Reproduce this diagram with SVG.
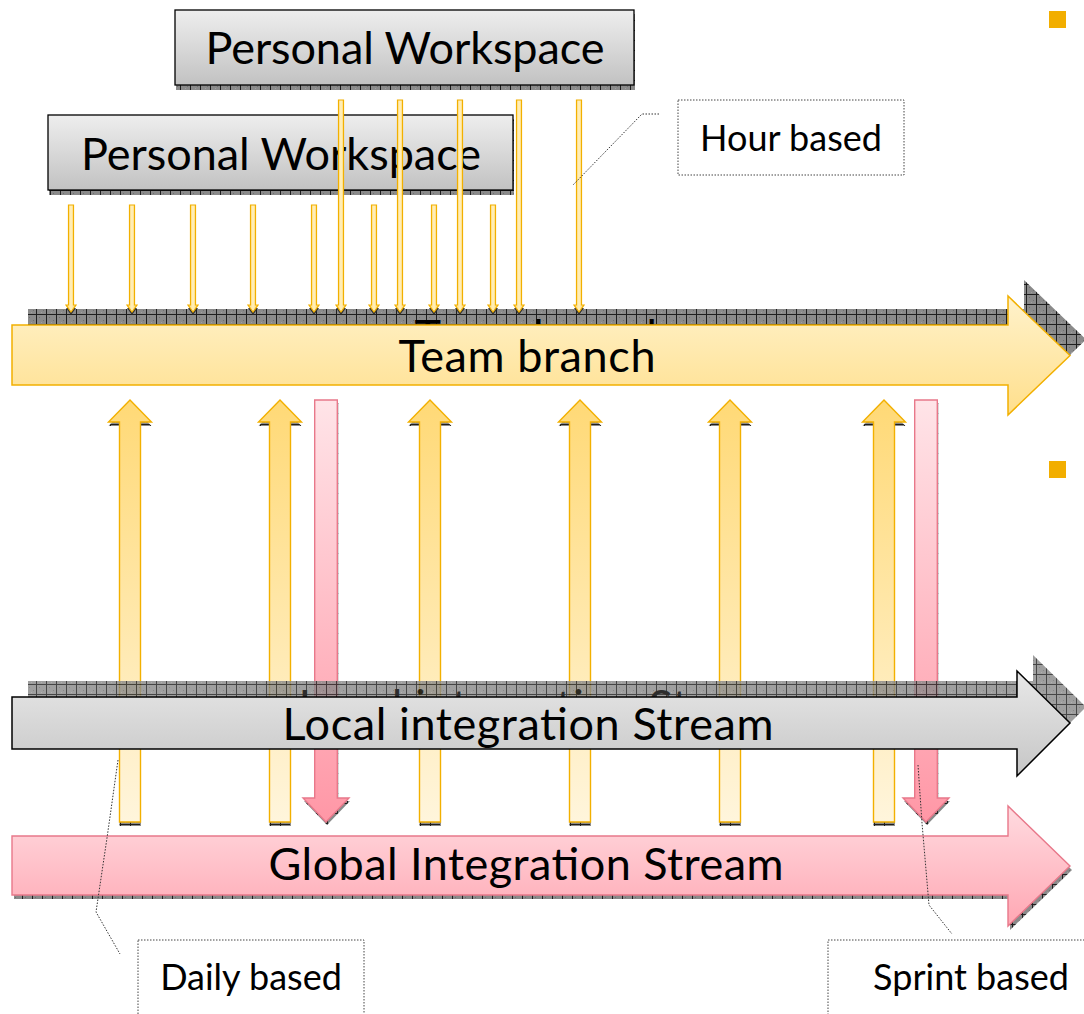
<svg xmlns="http://www.w3.org/2000/svg" width="1084" height="1014" viewBox="0 0 1084 1014">
<defs>
<pattern id="hatch" width="10" height="10" patternUnits="userSpaceOnUse">
<rect width="10" height="10" fill="#8a8a8a"/>
<rect x="3" y="3" width="1" height="1" fill="#6e6e6e"/><rect x="7" y="6" width="1" height="1" fill="#6e6e6e"/><rect x="5" y="8" width="1" height="1" fill="#a0a0a0"/>
<path d="M0,0.5H10M0.5,0V10" stroke="#1e1e1e" stroke-width="1"/>
</pattern>
<linearGradient id="gBox" x1="0" y1="0" x2="0" y2="1"><stop offset="0" stop-color="#eeeeee"/><stop offset="1" stop-color="#c2c2c2"/></linearGradient>
<linearGradient id="gTeam" x1="0" y1="0" x2="0" y2="1"><stop offset="0" stop-color="#fff2cb"/><stop offset="1" stop-color="#ffdf8c"/></linearGradient>
<linearGradient id="gLocal" x1="0" y1="0" x2="0" y2="1"><stop offset="0" stop-color="#e8e8e8"/><stop offset="1" stop-color="#c6c6c6"/></linearGradient>
<linearGradient id="gGlobal" x1="0" y1="0" x2="0" y2="1"><stop offset="0" stop-color="#ffdbe0"/><stop offset="1" stop-color="#ffa7b3"/></linearGradient>
<linearGradient id="gUp" gradientUnits="userSpaceOnUse" x1="0" y1="400" x2="0" y2="822"><stop offset="0" stop-color="#ffd976"/><stop offset="1" stop-color="#fff5dc"/></linearGradient>
<linearGradient id="gDown" gradientUnits="userSpaceOnUse" x1="0" y1="400" x2="0" y2="822"><stop offset="0" stop-color="#ffe4e8"/><stop offset="1" stop-color="#ff97a6"/></linearGradient>
<linearGradient id="gSmall" x1="0" y1="0" x2="1" y2="0"><stop offset="0" stop-color="#ffd45c"/><stop offset="0.5" stop-color="#fff0c0"/><stop offset="1" stop-color="#ffd45c"/></linearGradient>
<clipPath id="clipTeam"><rect x="0" y="270" width="1084" height="55"/></clipPath>
<clipPath id="clipLocal"><rect x="0" y="640" width="1084" height="57"/></clipPath>
<path id="up" d="M-10.5,822V422H-21.5L0,400L21.5,422H10.5V822Z"/>
<path id="down" d="M-11.3,400H11.3V798H23L0,822L-23,798H-11.3Z"/>
<path id="sLong" d="M-2.5,100H2.5V305H5L0,312L-5,305H-2.5Z"/>
<path id="sShort" d="M-2.5,205H2.5V305H5L0,312L-5,305H-2.5Z"/>
</defs>
<style>
.t{font-family:Lato,"Noto Sans","DejaVu Sans",sans-serif;fill:#000;text-anchor:middle}
.big{font-size:45px}
.mid{font-size:36px}
.box{fill:url(#gBox);stroke:#000;stroke-width:1.3}
.sh{fill:url(#hatch)}
.upA{fill:url(#gUp);stroke:#f2b000;stroke-width:1.4}
.dnA{fill:url(#gDown);stroke:#e8788a;stroke-width:1.4}
.sm{fill:url(#gSmall);stroke:#f2b000;stroke-width:1.2}
.smsh{fill:#333}
.call{fill:#fff;stroke:#444;stroke-width:1;stroke-dasharray:1.5 1.5}
.lead{fill:none;stroke:#333;stroke-width:1;stroke-dasharray:1.5 1.5}
.bul{fill:#f2ae00}
</style>
<rect width="1084" height="1014" fill="#fff"/>
<g id="bullets">
<rect class="bul" x="1049" y="11" width="17" height="17"/>
<rect class="bul" x="1049" y="461" width="17" height="17"/>
</g>
<g id="workspace1">
<rect class="sh" x="176" y="14" width="459" height="76"/>
<rect class="box" x="175" y="10" width="459" height="75"/>
<text class="t big" x="405" y="64" textLength="399" lengthAdjust="spacing">Personal Workspace</text>
</g>
<g id="workspace2">
<rect class="sh" x="49" y="119" width="465" height="76"/>
<rect class="box" x="48" y="115" width="465" height="75"/>
<text class="t big" x="281" y="170" textLength="400" lengthAdjust="spacing">Personal Workspace</text>
</g>
<g id="team-branch">
<g transform="translate(16,-16)">
<path class="sh" d="M12,325H1008V296L1070,355.5L1008,415V385H12Z"/>
</g>
<text class="t big" x="543" y="352" textLength="257" lengthAdjust="spacing" clip-path="url(#clipTeam)">Team branch</text>
<path d="M12,325H1008V296L1070,355.5L1008,415V385H12Z" fill="url(#gTeam)" stroke="#f2b000" stroke-width="1.5"/>
<text class="t big" x="527" y="372" textLength="257" lengthAdjust="spacing">Team branch</text>
</g>
<g id="connectors">
<g id="hour-arrows">
<use href="#sShort" class="smsh" x="71" y="3"/><use href="#sShort" class="sm" x="71"/>
<use href="#sShort" class="smsh" x="132" y="3"/><use href="#sShort" class="sm" x="132"/>
<use href="#sShort" class="smsh" x="193" y="3"/><use href="#sShort" class="sm" x="193"/>
<use href="#sShort" class="smsh" x="253" y="3"/><use href="#sShort" class="sm" x="253"/>
<use href="#sShort" class="smsh" x="314" y="3"/><use href="#sShort" class="sm" x="314"/>
<use href="#sShort" class="smsh" x="374" y="3"/><use href="#sShort" class="sm" x="374"/>
<use href="#sShort" class="smsh" x="434" y="3"/><use href="#sShort" class="sm" x="434"/>
<use href="#sShort" class="smsh" x="493" y="3"/><use href="#sShort" class="sm" x="493"/>
<use href="#sLong" class="smsh" x="341" y="3"/><use href="#sLong" class="sm" x="341"/>
<use href="#sLong" class="smsh" x="400" y="3"/><use href="#sLong" class="sm" x="400"/>
<use href="#sLong" class="smsh" x="460" y="3"/><use href="#sLong" class="sm" x="460"/>
<use href="#sLong" class="smsh" x="519" y="3"/><use href="#sLong" class="sm" x="519"/>
<use href="#sLong" class="smsh" x="579" y="3"/><use href="#sLong" class="sm" x="579"/>
</g>
<g id="daily-arrows">
<use href="#up" class="sh" x="130" y="4"/><use href="#up" class="upA" x="130"/>
<use href="#up" class="sh" x="280" y="4"/><use href="#up" class="upA" x="280"/>
<use href="#up" class="sh" x="430" y="4"/><use href="#up" class="upA" x="430"/>
<use href="#up" class="sh" x="580" y="4"/><use href="#up" class="upA" x="580"/>
<use href="#up" class="sh" x="730" y="4"/><use href="#up" class="upA" x="730"/>
<use href="#up" class="sh" x="884" y="4"/><use href="#up" class="upA" x="884"/>
</g>
<g id="sprint-arrows">
<use href="#down" class="sh" x="327" y="3"/><use href="#down" class="dnA" x="326"/>
<use href="#down" class="sh" x="927" y="3"/><use href="#down" class="dnA" x="926"/>
</g>
</g>
<g id="local-stream">
<g opacity="0.82">
<path class="sh" transform="translate(16,-16)" d="M12,697H1017V671L1070,723L1017,776V749H12Z"/>
<text class="t big" x="544" y="722" textLength="491" lengthAdjust="spacing" clip-path="url(#clipLocal)">Local integration Stream</text>
</g>
<path d="M12,697H1017V671L1070,723L1017,776V749H12Z" fill="url(#gLocal)" stroke="#000" stroke-width="1.5"/>
<text class="t big" x="528" y="740" textLength="491" lengthAdjust="spacing">Local integration Stream</text>
</g>
<g id="global-stream">
<path class="sh" transform="translate(2,4)" d="M12,836H1008V806L1070,866L1008,926V895H12Z"/>
<path d="M12,836H1008V806L1070,866L1008,926V895H12Z" fill="url(#gGlobal)" stroke="#e8788a" stroke-width="1.4"/>
<text class="t big" x="526" y="880" textLength="515" lengthAdjust="spacing">Global Integration Stream</text>
</g>
<g id="hour-based">
<rect class="call" x="678" y="100" width="226" height="75"/>
<text class="t mid" x="791" y="151">Hour based</text>
</g>
<g id="daily-based">
<rect class="call" x="138" y="940" width="226" height="90"/>
<text class="t mid" x="251" y="990">Daily based</text>
</g>
<g id="sprint-based">
<rect class="call" x="828" y="940" width="270" height="90"/>
<text class="t mid" x="971" y="990">Sprint based</text>
</g>
<g id="leaders">
<polyline class="lead" points="659,114 642,114 573,185"/>
<polyline class="lead" points="118,760 107,838 96,912 120,954"/>
<polyline class="lead" points="918,765 922,823 929,905 952,934"/>
</g>
</svg>
